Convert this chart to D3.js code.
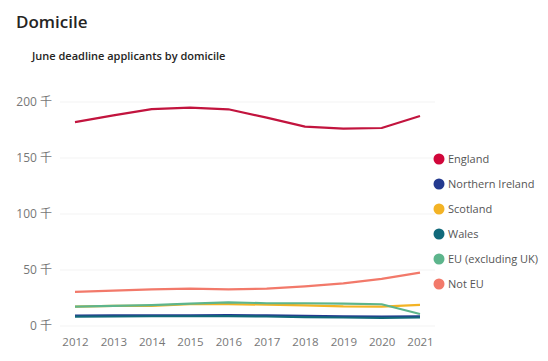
<!DOCTYPE html>
<html>
<head>
<meta charset="utf-8">
<script src="https://cdn.jsdelivr.net/npm/d3@7"></script>
<style>
  body { margin: 0; background: #fff; font-family: "Open Sans", "Noto Sans", sans-serif; }
</style>
</head>
<body>
<div id="chart"></div>
<script>
// Values (thousands of applicants)
const years = [2012, 2013, 2014, 2015, 2016, 2017, 2018, 2019, 2020, 2021];
const seriesNames = ["England", "Northern Ireland", "Scotland", "Wales", "EU (excluding UK)", "Not EU"];
const england = [182, 188, 193.7, 195, 193.5, 186, 178, 176.2, 176.8, 187.5];
const northernIreland = [9.3, 9.4, 9.6, 9.6, 9.7, 9.4, 9.0, 8.6, 8.4, 8.6];
const scotland = [17.3, 18, 18, 19.5, 19.6, 19, 18.5, 17.5, 17.3, 18.8];
const wales = [8.3, 8.5, 8.7, 8.7, 8.8, 8.5, 8.0, 7.6, 7.3, 7.6];
const eu = [17.3, 18, 18.7, 20, 21.1, 20.3, 20.3, 20, 19.4, 10.7];
const notEu = [30.4, 31.5, 32.7, 33.3, 32.7, 33.4, 35.4, 38, 42, 47.6];
const yTicks = [0, 50, 100, 150, 200];

const colors = ["#d1063a", "#243a8f", "#f3b325", "#11697a", "#5db58c", "#f2796a"];
const lineColors = ["#c2143e", "#243a8f", "#f3b325", "#11697a", "#5db58c", "#f2796a"];
const values = [england, northernIreland, scotland, wales, eu, notEu];

const width = 548, height = 361;

const svg = d3.select("#chart")
    .append("svg")
    .attr("width", width)
    .attr("height", height);

// Titles
svg.append("text")
    .attr("x", 16).attr("y", 28)
    .attr("font-size", "17px")
    .attr("font-weight", 600)
    .attr("fill", "#252423")
    .text("Domicile");

svg.append("text")
    .attr("x", 32).attr("y", 60)
    .attr("font-size", "11px")
    .attr("font-weight", 600)
    .attr("fill", "#252423")
    .text("June deadline applicants by domicile");

// Scales
const x = d3.scalePoint()
    .domain(years)
    .range([75, 420]);

const y = d3.scaleLinear()
    .domain([0, 200])
    .range([326, 102]);

// Gridlines
svg.append("g")
    .selectAll("line")
    .data(yTicks)
    .enter()
    .append("line")
    .attr("x1", 60).attr("x2", 435)
    .attr("y1", d => y(d)).attr("y2", d => y(d))
    .attr("stroke", "#f3f3f3")
    .attr("stroke-width", 1);

// Y axis labels
const yAxis = svg.append("g")
    .attr("transform", "translate(52,0)")
    .call(d3.axisLeft(y).tickValues(yTicks).tickSize(0).tickPadding(0).tickFormat(d => d + " 千"));
yAxis.select(".domain").remove();
yAxis.selectAll("text")
    .attr("font-family", "'Open Sans', 'Noto Sans CJK SC', sans-serif")
    .attr("font-size", "12px")
    .attr("fill", "#777");

// X axis labels
const xAxis = svg.append("g")
    .attr("transform", "translate(0,330)")
    .call(d3.axisBottom(x).tickSize(0).tickPadding(8));
xAxis.select(".domain").remove();
xAxis.selectAll("text")
    .attr("font-family", "'Open Sans', sans-serif")
    .attr("font-size", "11.5px")
    .attr("fill", "#777");

// Lines
const line = d3.line()
    .x((d, i) => x(years[i]))
    .y(d => y(d));

svg.append("g")
    .selectAll("path")
    .data(values)
    .enter()
    .append("path")
    .attr("d", d => line(d))
    .attr("fill", "none")
    .attr("stroke", (d, i) => lineColors[i])
    .attr("stroke-width", 2.2)
    .attr("stroke-linejoin", "round");

// Legend
const legend = svg.append("g")
    .selectAll("g")
    .data(seriesNames)
    .enter()
    .append("g")
    .attr("transform", (d, i) => `translate(439,${159 + i * 25})`);

legend.append("circle")
    .attr("r", 5.5)
    .attr("fill", (d, i) => colors[i]);

legend.append("text")
    .attr("x", 9)
    .attr("y", 4)
    .attr("font-size", "11px")
    .attr("fill", "#555")
    .text(d => d);
</script>
</body>
</html>
